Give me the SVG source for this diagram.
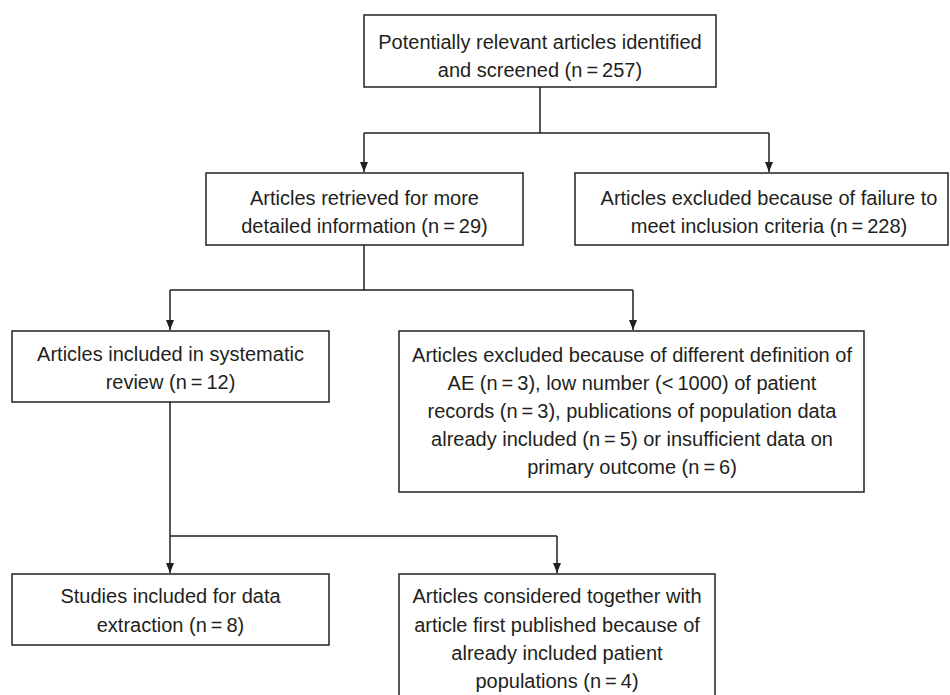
<svg xmlns="http://www.w3.org/2000/svg" width="950" height="695" viewBox="0 0 950 695">
<style>
.box{fill:#fff;stroke:#231f20;stroke-width:1.5}
.t{font-family:"Liberation Sans",Arial,sans-serif;font-size:20px;fill:#231f20;text-anchor:middle}
.c{fill:none;stroke:#231f20;stroke-width:1.5}
</style>
<defs>
<marker id="ah" markerUnits="userSpaceOnUse" markerWidth="10" markerHeight="8" refX="10" refY="4" orient="auto" viewBox="0 0 10 8">
<path d="M0,0 L10,4 L0,8 Z" fill="#231f20"/>
</marker>
</defs>
<rect width="950" height="695" fill="#fff"/>
<g id="connectors">
<path class="c" d="M540,87 V133 M364,133 H769"/>
<path class="c" d="M364,133 V172" marker-end="url(#ah)"/>
<path class="c" d="M769,133 V172" marker-end="url(#ah)"/>
<path class="c" d="M364,245 V290 M170,290 H633"/>
<path class="c" d="M170,290 V330" marker-end="url(#ah)"/>
<path class="c" d="M633,290 V330" marker-end="url(#ah)"/>
<path class="c" d="M170,536 H557"/>
<path class="c" d="M170,402 V573" marker-end="url(#ah)"/>
<path class="c" d="M557,536 V573" marker-end="url(#ah)"/>
</g>
<g id="n1">
<rect class="box" x="364" y="15" width="352" height="72"/>
<text class="t" x="540" y="49">Potentially relevant articles identified</text>
<text class="t" x="540" y="77">and screened (n&#8201;=&#8201;257)</text>
</g>
<g id="n2">
<rect class="box" x="206" y="173" width="317" height="72"/>
<text class="t" x="364.5" y="205">Articles retrieved for more</text>
<text class="t" x="364.5" y="233">detailed information (n&#8201;=&#8201;29)</text>
</g>
<g id="n3">
<rect class="box" x="575" y="173" width="373" height="72"/>
<text class="t" x="769" y="205">Articles excluded because of failure to</text>
<text class="t" x="769" y="233">meet inclusion criteria (n&#8201;=&#8201;228)</text>
</g>
<g id="n4">
<rect class="box" x="12" y="331" width="317" height="71"/>
<text class="t" x="170.5" y="361">Articles included in systematic</text>
<text class="t" x="170.5" y="389">review (n&#8201;=&#8201;12)</text>
</g>
<g id="n5">
<rect class="box" x="399" y="331" width="465" height="161"/>
<text class="t" x="632" y="362">Articles excluded because of different definition of</text>
<text class="t" x="632" y="390">AE (n&#8201;=&#8201;3), low number (&lt;&#8201;1000) of patient</text>
<text class="t" x="632" y="418">records (n&#8201;=&#8201;3), publications of population data</text>
<text class="t" x="632" y="446">already included (n&#8201;=&#8201;5) or insufficient data on</text>
<text class="t" x="632" y="474">primary outcome (n&#8201;=&#8201;6)</text>
</g>
<g id="n6">
<rect class="box" x="12" y="574" width="317" height="71"/>
<text class="t" x="170.5" y="603">Studies included for data</text>
<text class="t" x="170.5" y="632">extraction (n&#8201;=&#8201;8)</text>
</g>
<g id="n7">
<rect class="box" x="399" y="574" width="316" height="130"/>
<text class="t" x="557" y="603">Articles considered together with</text>
<text class="t" x="557" y="632">article first published because of</text>
<text class="t" x="557" y="660">already included patient</text>
<text class="t" x="557" y="688">populations (n&#8201;=&#8201;4)</text>
</g>
</svg>
